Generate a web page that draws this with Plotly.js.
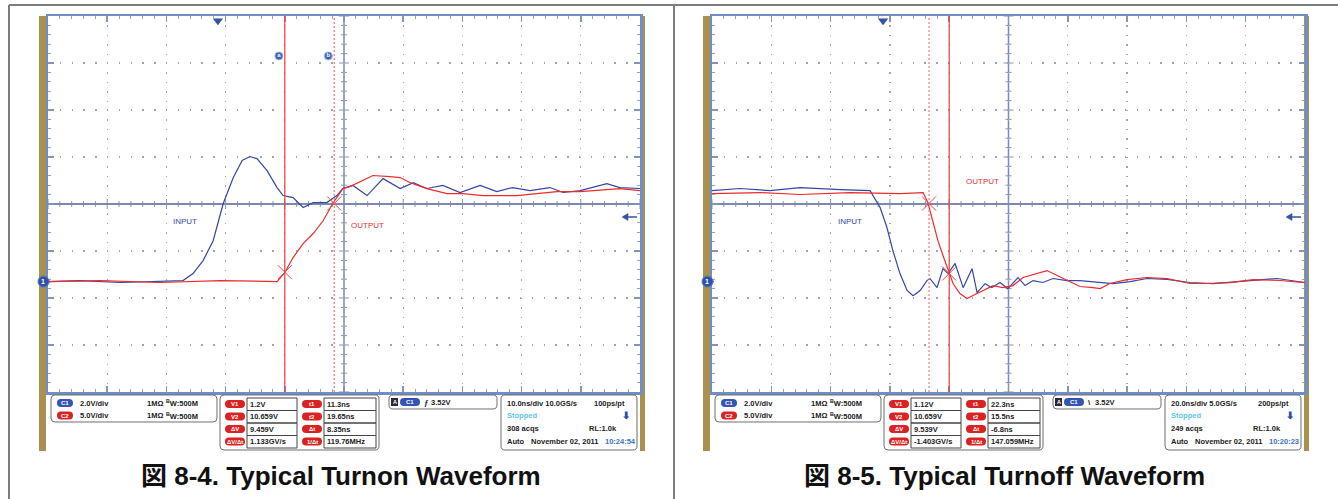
<!DOCTYPE html>
<html><head><meta charset="utf-8">
<script src="https://cdn.plot.ly/plotly-3.0.1.min.js"></script>
<style>html,body{margin:0;padding:0;background:#fff}#chart{width:1338px;height:499px}</style>
</head><body><div id="chart"></div>
<script>
// ================= DATA =================
// Times in ns from the left edge of each scope screen; voltages in volts.
const turnonInputTimeNs = [0,5.4,12.2,17.2,22.8,24.5,26.2,27.9,29.6,31.3,32.8,34.1,35.3,37.0,38.7,39.7,41.4,43.1,44.8,47.1,48.8,49.8,51.5,53.9,56.6,59.5,61.7,64.0,66.7,69.6,73.0,75.8,78.5,81.4,84.8,87.0,89.9,94.4,96.6,100];
const turnonInputV = [0,0.04,-0.04,0,0.04,0.34,0.89,1.74,3.32,4.43,5.15,5.32,5.23,4.72,4.0,3.66,3.57,3.15,3.36,3.36,3.66,3.96,4.09,3.66,4.38,3.96,4.21,3.96,4.09,3.79,4.09,3.83,4.0,3.87,4.0,3.79,3.87,4.17,4.0,3.96];
const turnonOutputTimeNs = [0,8.8,18.9,29.1,38.7,40.0,41.4,43.1,44.8,46.5,48.1,49.8,51.0,53.2,54.9,57.8,59.5,61.1,64.0,67.4,70.1,73.5,76.4,79.2,82.6,86.0,89.9,93.8,96.6,100];
const turnonOutputV = [0,0.1,-0.1,0.1,0,0.96,2.55,4.04,5.11,6.49,8.30,9.89,10.1,10.75,11.28,11.17,11.06,10.53,9.89,9.36,9.36,9.15,9.15,9.15,9.36,9.57,9.57,9.79,9.89,9.68];

const turnoffInputTimeNs = [0,9.4,19.6,29.7,43.2,53.3,56.7,59.0,61.0,63.4,65.8,67.8,70.2,72.5,73.5,75.9,77.9,79.6,82.0,84.7,87.7,89.4,92.1,94.4,97.1,99.8,103.2,105.6,108.3,111.6,115.0,119.7,124.1,130.9,135.2,141.0,146.7,153.5,161.2,169.0,178.1,190.6,200];
const turnoffInputV = [3.87,3.96,3.87,4.0,3.91,3.87,3.15,2.30,1.32,0.34,-0.38,-0.60,-0.38,0.04,0.13,-0.26,0.55,0.34,0.77,-0.26,0.55,-0.47,-0.09,-0.26,-0.04,-0.30,0.17,-0.17,0.04,-0.04,0.13,0.04,0.04,-0.04,-0.09,0,0.13,0.09,-0.04,-0.09,0,0.13,-0.04];
const turnoffOutputTimeNs = [0,16.2,29.7,46.5,63.4,71.2,72.8,74.5,76.2,77.9,79.6,81.3,83.6,86.0,88.0,91.4,94.8,98.1,101.5,104.9,109.6,113.0,116.4,119.7,124.1,128.5,130.9,134.2,140.0,146.7,153.5,161.2,166.9,174.7,182.5,191.6,200];
const turnoffOutputV = [9.36,9.47,9.26,9.47,9.36,9.47,8.41,6.49,4.36,2.77,1.17,-0.21,-1.28,-1.81,-1.49,-0.96,-0.43,-0.64,-0.43,0.43,0.85,1.17,0.64,0.11,-0.53,-0.64,-0.74,-0.21,0.21,0.43,0.32,-0.21,-0.21,-0.11,0.21,0.11,-0.11];

const ch1VoltsPerDiv = 2.0, ch2VoltsPerDiv = 5.0;
const timePerDivNs = [10, 20];
const triggerPosNs = [28.7, 57.7];
const cursorT1Ns = [11.3, 22.3], cursorT2Ns = [19.65, 15.5];
const cursorMarkV = [[1.0, 8.3], [0.85, 8.3]]; // output value where cursors cross (t1, t2)

const channelRows = [["C1","2.0V/div","1MΩ","W:500M"],["C2","5.0V/div","1MΩ","W:500M"]];
const cursorLabelsV = ["V1","V2","ΔV","ΔV/Δt"], cursorLabelsT = ["t1","t2","Δt","1/Δt"];
const cursorValuesV = [["1.2V","10.659V","9.459V","1.133GV/s"],["1.12V","10.659V","9.539V","-1.403GV/s"]];
const cursorValuesT = [["11.3ns","19.65ns","8.35ns","119.76MHz"],["22.3ns","15.5ns","-6.8ns","147.059MHz"]];
const triggerLevel = ["3.52V","3.52V"], triggerSlope = ["ƒ","\\"];
const acqLine1 = [["10.0ns/div","10.0GS/s","100ps/pt"],["20.0ns/div","5.0GS/s","200ps/pt"]];
const acqCount = ["308 acqs","249 acqs"], recLen = ["RL:1.0k","RL:1.0k"];
const acqDate = ["November 02, 2011","November 02, 2011"], acqTime = ["10:24:54","10:20:23"];
const captions = ["図 8-4. Typical Turnon Waveform","図 8-5. Typical Turnoff Waveform"];
const labels = [["INPUT","OUTPUT"],["INPUT","OUTPUT"]];

// ================= HELPERS =================
const W=1338,H=499;
const px=x=>x/W, py=y=>1-y/H;
const GND_DIV=-1.65;
const toDiv=(arr,vdiv)=>arr.map(v=>v/vdiv+GND_DIV);
const shapes=[], annotations=[];
const FONT='Arial, "Liberation Sans", sans-serif';
const NARROW='"Liberation Sans Narrow", "Arial Narrow", Arial, sans-serif';
const BLUE='#3447a6', RED='#ee2b2b', PILLRED='#d92323', PILLBLUE='#3555b4';
const GOLD='#a8914f', FRAME='#6d8ec6';

function line(x0,y0,x1,y1,color,width,dash){shapes.push({type:'line',xref:'paper',yref:'paper',x0:px(x0),y0:py(y0),x1:px(x1),y1:py(y1),line:{color,width,dash:dash||'solid'},layer:'above'});}
function rect(x0,y0,x1,y1,fill,lc,lw,layer){shapes.push({type:'rect',xref:'paper',yref:'paper',x0:px(x0),y0:py(y0),x1:px(x1),y1:py(y1),fillcolor:fill||'rgba(0,0,0,0)',line:{color:lc||'rgba(0,0,0,0)',width:lw||0},layer:layer||'above'});}
function rrect(x0,y0,x1,y1,r,fill,lc,lw){
  const P=(x,y)=>px(x).toFixed(6)+','+py(y).toFixed(6);
  const path=`M${P(x0+r,y0)} L${P(x1-r,y0)} Q${P(x1,y0)} ${P(x1,y0+r)} L${P(x1,y1-r)} Q${P(x1,y1)} ${P(x1-r,y1)} L${P(x0+r,y1)} Q${P(x0,y1)} ${P(x0,y1-r)} L${P(x0,y0+r)} Q${P(x0,y0)} ${P(x0+r,y0)} Z`;
  shapes.push({type:'path',xref:'paper',yref:'paper',path,fillcolor:fill||'rgba(0,0,0,0)',line:{color:lc||'rgba(0,0,0,0)',width:lw||0},layer:'above'});
}
function circ(cx,cy,r,fill,lc,lw){shapes.push({type:'circle',xref:'paper',yref:'paper',x0:px(cx-r),x1:px(cx+r),y0:py(cy+r),y1:py(cy-r),fillcolor:fill,line:{color:lc||'rgba(0,0,0,0)',width:lw||0},layer:'above'});}
function txt(x,y,t,size,color,opts){annotations.push(Object.assign({xref:'paper',yref:'paper',x:px(x),y:py(y),text:t,showarrow:false,xanchor:'left',yanchor:'middle',borderpad:0,font:{family:FONT,size,color}},opts||{}));}
function pill(x0,x1,yc,fill,label){rrect(x0,yc-4,x1,yc+4,4,fill); txt((x0+x1)/2,yc,'<b>'+label+'</b>',6,'#fff',{xanchor:'center'});}

// ================= AXES =================
function xAxis(dom,range,dtick){return {domain:dom,range,dtick,tick0:0,showgrid:true,gridcolor:'#9ea4b8',gridwidth:1.3,griddash:'1.3px,8.1px',showline:true,linecolor:FRAME,linewidth:2.5,mirror:'ticks',ticks:'inside',ticklen:6,tickwidth:1.5,tickcolor:'#8594bb',minor:{dtick:dtick/5,ticks:'inside',ticklen:3,tickwidth:1,tickcolor:'#94a0c2',showgrid:false},showticklabels:false,zeroline:false,fixedrange:true};}
function yAxis(dom){return {domain:dom,range:[-4,4],dtick:1,tick0:0,showgrid:true,gridcolor:'#9ea4b8',gridwidth:1.3,griddash:'1.3px,10.5px',showline:true,linecolor:FRAME,linewidth:2.5,mirror:'ticks',ticks:'inside',ticklen:6,tickwidth:1.5,tickcolor:'#8594bb',minor:{dtick:0.2,ticks:'inside',ticklen:3,tickwidth:1,tickcolor:'#94a0c2',showgrid:false},showticklabels:false,zeroline:true,zerolinecolor:'#7d8aae',zerolinewidth:1.5,fixedrange:true};}

const traces=[];
const scopes=[
  {o:0, xa:'x', ya:'y', range:[0,100], tin:turnonInputTimeNs, vin:turnonInputV, tout:turnonOutputTimeNs, vout:turnonOutputV},
  {o:664, xa:'x2', ya:'y2', range:[0,200], tin:turnoffInputTimeNs, vin:turnoffInputV, tout:turnoffOutputTimeNs, vout:turnoffOutputV}
];

scopes.forEach((s,i)=>{
  const o=s.o, dt=timePerDivNs[i], nsPerPx=dt/59.25;
  traces.push({x:s.tin,y:toDiv(s.vin,ch1VoltsPerDiv),xaxis:s.xa,yaxis:s.ya,mode:'lines',line:{color:BLUE,width:1.2},hoverinfo:'skip'});
  traces.push({x:s.tout,y:toDiv(s.vout,ch2VoltsPerDiv),xaxis:s.xa,yaxis:s.ya,mode:'lines',line:{color:RED,width:1.2},hoverinfo:'skip'});
  const t1=triggerPosNs[i]+cursorT1Ns[i], t2=triggerPosNs[i]+cursorT2Ns[i];
  // cursor lines
  shapes.push({type:'line',xref:s.xa,yref:s.ya,x0:t1,x1:t1,y0:-4,y1:4,line:{color:'#f03a3a',width:1.2},layer:'above'});
  shapes.push({type:'line',xref:s.xa,yref:s.ya,x0:t2,x1:t2,y0:-4,y1:4,line:{color:'#f27878',width:1.2,dash:'2px,2px'},layer:'above'});
  // cursor cross markers
  traces.push({x:[t1,t2],y:toDiv(cursorMarkV[i],ch2VoltsPerDiv),xaxis:s.xa,yaxis:s.ya,mode:'markers',marker:{symbol:'x-thin-open',size:14,color:'#f04545',line:{color:'#f04545',width:1}},hoverinfo:'skip'});
  // center vertical line + center ticks
  const xc=(s.range[0]+s.range[1])/2;
  shapes.push({type:'line',xref:s.xa,yref:s.ya,x0:xc,x1:xc,y0:-4,y1:4,line:{color:'#7d8aae',width:1.5},layer:'below'});
  for(let k=0;k<=50;k++){const x=k*dt/5, L=(k%5===0?5:3)/47;
    shapes.push({type:'line',xref:s.xa,yref:s.ya,x0:x,x1:x,y0:-L,y1:L,line:{color:'#8594bb',width:1},layer:'below'});}
  for(let k=-20;k<=20;k++){const y=k*0.2, L=(k%5===0?5:3)*nsPerPx;
    shapes.push({type:'line',xref:s.xa,yref:s.ya,x0:xc-L,x1:xc+L,y0:y,y1:y,line:{color:'#8594bb',width:1},layer:'below'});}
  // trigger position marker
  traces.push({x:[triggerPosNs[i]],y:[3.9],xaxis:s.xa,yaxis:s.ya,mode:'markers',marker:{symbol:'triangle-down',size:9,color:'#3352a8'},cliponaxis:false,hoverinfo:'skip'});
  // ground marker of channel 1 (on the left edge of the screen)
  const gy = 204 - GND_DIV*47;
  shapes.push({type:'path',xref:'paper',yref:'paper',path:`M${px(46+o)},${py(gy-3.5)} L${px(50+o)},${py(gy)} L${px(46+o)},${py(gy+3.5)} Z`,fillcolor:'#2f4fa8',line:{color:'#2f4fa8',width:0.5},layer:'above'});
  circ(43.5+o,gy,5.5,'#2f4fa8','#5b78c0',1);
  txt(43.5+o,gy,'<b>1</b>',7,'#fff',{xanchor:'center'});
  if(i===0){
    traces.push({x:[t1-1.0,t2-1.0],y:[3.15,3.15],xaxis:s.xa,yaxis:s.ya,mode:'markers+text',text:['<b>a</b>','<b>b</b>'],textfont:{color:'#fff',size:6,family:FONT},textposition:'middle center',marker:{symbol:'circle',size:8,color:'#3a64b8',line:{color:'#9cb4e0',width:1}},hoverinfo:'skip'});
  }
  // right-side level arrow (line + triangle head)
  line(626+o,217,637+o,217,'#3552a8',1.5);
  shapes.push({type:'path',xref:'paper',yref:'paper',path:`M${px(622+o)},${py(217)} L${px(628+o)},${py(213.5)} L${px(628+o)},${py(220.5)} Z`,fillcolor:'#3552a8',line:{color:'#3552a8',width:0.5},layer:'above'});
  // gold side bars
  rect(39+o,16,46+o,451,GOLD,null,0,'below'); rect(640+o,16,645+o,451,GOLD,null,0,'below');
  // INPUT / OUTPUT labels
  const lp = i===0 ? [[172,221],[350,225]] : [[173,221],[301,182]];
  txt(lp[0][0]+o,lp[0][1],labels[i][0],8,'#3447a6',{font:{family:NARROW,size:8,color:'#3447a6'}});
  txt(lp[1][0]+o,lp[1][1],labels[i][1],8,'#e83030',{font:{family:NARROW,size:8,color:'#e83030'}});

  // ---- bottom readout panel ----
  rrect(51+o,395,217+o,422,4,'#fff','#6f6f6f',1);
  channelRows.forEach((r,j)=>{const y=403+j*12.5;
    pill(57+o,73+o,y,j===0?PILLBLUE:PILLRED,r[0]);
    txt(79+o,y,'<b>'+r[1]+'</b>',7.5,'#222');
    txt(146+o,y,'<b>'+r[2]+'</b>',7.5,'#222');
    txt(165+o,y,'<b><sup>B</sup>'+r[3]+'</b>',7.5,'#222');
  });
  rrect(220+o,395,379+o,450,4,'#fff','#6f6f6f',1);
  const rowY=[404,416.5,429,441.5], edges=[398,410.5,423,435.5,448];
  for(let j=0;j<4;j++){
    pill(225+o,245+o,rowY[j],PILLRED,cursorLabelsV[j]);
    rect(247+o,edges[j],297+o,edges[j+1],null,'#444',1);
    txt(249+o,rowY[j],'<b>'+cursorValuesV[i][j]+'</b>',7.5,'#222');
    pill(302+o,322+o,rowY[j],PILLRED,cursorLabelsT[j]);
    rect(324+o,edges[j],376+o,edges[j+1],null,'#444',1);
    txt(326+o,rowY[j],'<b>'+cursorValuesT[i][j]+'</b>',7.5,'#222');
  }
  rrect(389+o,395,497+o,409,4,'#fff','#6f6f6f',1);
  rect(391+o,398,398+o,406,'#2a2a3a');
  txt(394.5+o,402,'<b>A</b>',5.5,'#fff',{xanchor:'center'});
  pill(400+o,420+o,402,PILLBLUE,'C1');
  txt(423+o,402,'<b>'+triggerSlope[i]+'</b>',8,'#222');
  txt(430+o,402,'<b>'+triggerLevel[i]+'</b>',7.5,'#222');
  rrect(501+o,395,637+o,450,4,'#fff','#6f6f6f',1);
  txt(506+o,403,'<b>'+acqLine1[i][0]+' '+acqLine1[i][1]+'</b>',7.5,'#222');
  txt(593+o,403,'<b>'+acqLine1[i][2]+'</b>',7.5,'#222');
  txt(506+o,415.5,'<b>Stopped</b>',7.5,'#5cc6e6');
  txt(626+o,415.5,'<b>⬇</b>',10,'#2f4fa8',{xanchor:'center'});
  txt(506+o,428,'<b>'+acqCount[i]+'</b>',7.5,'#222');
  txt(588+o,428,'<b>'+recLen[i]+'</b>',7.5,'#222');
  txt(506+o,441,'<b>Auto</b>',7.5,'#222');
  txt(530+o,441,'<b>'+acqDate[i]+'</b>',7.5,'#222');
  txt(604+o,441,'<b>'+acqTime[i]+'</b>',7.5,'#3b74c4');
  // caption
  txt(i===0?341:1005,476,'<b>'+captions[i]+'</b>',26,'#111',{xanchor:'center',font:{family:'Arial, "Liberation Sans", "Noto Sans CJK JP", sans-serif',size:26,color:'#111'}});
});

// page frame lines
line(9,5,1338,5,'#7d7d7d',2);
line(9,5,9,499,'#7d7d7d',2);
line(674,5,674,499,'#7d7d7d',2);

const layout={
  width:W,height:H,margin:{l:0,r:0,t:0,b:0},autosize:false,showlegend:false,
  paper_bgcolor:'#fff',plot_bgcolor:'rgba(0,0,0,0)',
  xaxis:Object.assign(xAxis([px(48),px(640)],[0,100],10),{anchor:'y'}),
  yaxis:Object.assign(yAxis([py(392),py(16)]),{anchor:'x'}),
  xaxis2:Object.assign(xAxis([px(712),px(1305)],[0,200],20),{anchor:'y2'}),
  yaxis2:Object.assign(yAxis([py(392),py(16)]),{anchor:'x2'}),
  shapes,annotations
};
Plotly.newPlot('chart',traces,layout,{staticPlot:true,displayModeBar:false});
</script></body></html>
